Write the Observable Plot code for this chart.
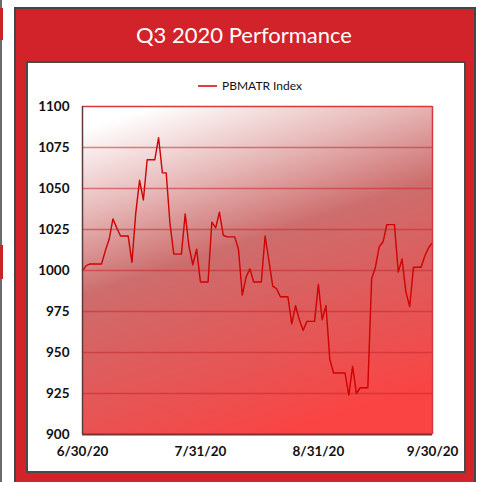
<!DOCTYPE html>
<html>
<head>
<meta charset="utf-8">
<script src="https://cdn.jsdelivr.net/npm/d3@7"></script>
<script src="https://cdn.jsdelivr.net/npm/@observablehq/plot@0.6"></script>
<style>
  html, body { margin: 0; padding: 0; background: #fff; }
  body { width: 479px; height: 482px; position: relative; overflow: hidden; font-family: "Lato", "Open Sans", sans-serif; }
  .abs { position: absolute; }
  #edge { left: 0; top: 0; width: 2px; height: 482px; background: #6a6a6a; }
  #frame { left: 14px; top: 7px; width: 458px; height: 480px; background: #d2222a; border: 2px solid #454545; }
  #title { left: 16px; top: 9px; width: 456px; height: 48px; line-height: 52px; text-align: center; color: #fff; font-size: 22px; font-family: "Lato", sans-serif; }
  #panel { left: 26px; top: 61px; width: 436px; height: 408px; background: #fff; border: 2px solid #4a4a4a; }
  #legend { left: 198px; top: 78px; font-size: 12px; color: #111; display: flex; align-items: center; gap: 5px; }
  #chart { left: 29px; top: 96px; }
</style>
</head>
<body>
<div class="abs" id="edge"></div>
<div class="abs" style="left:0;top:8px;width:3px;height:32px;background:#c8232a"></div>
<div class="abs" style="left:0;top:245px;width:3px;height:34px;background:#c8232a"></div>
<div class="abs" id="frame"></div>
<div class="abs" id="title"></div>
<div class="abs" id="panel"></div>
<div class="abs" id="legend"></div>
<div class="abs" id="chart"></div>
<script>
const titleText = "Q3 2020 Performance";
const seriesNames = ["PBMATR Index"];
const startDate = "2020-06-30";
const endDate = "2020-09-30";
const xTickLabels = ["2020-06-30", "2020-07-31", "2020-08-31", "2020-09-30"];
const yTicks = [900, 925, 950, 975, 1000, 1025, 1050, 1075, 1100];
// daily index level, 6/30/20 .. 9/30/20 (weekends/holidays carry the prior value)
const values = [
  1000,
  1003, 1004, 1004, 1004, 1004, 1012, 1019, 1031.5, 1026, 1021, 1021, 1021, 1005, 1035, 1055, 1043,
  1067.5, 1067.5, 1067.5, 1081, 1059.5, 1059.5, 1028.5, 1010, 1010, 1010, 1034.5, 1014.5, 1003.5, 1013, 993,
  993, 993, 1029.5, 1026, 1035.5, 1021.5, 1020.5, 1020.5, 1020.5, 1013, 985, 996, 1001, 993, 993, 993,
  1021, 1006, 990.5, 989, 984, 984, 984, 967.5, 978.5, 970, 963.5, 969, 969, 969, 991.5,
  970, 978.5, 946, 937.5, 937.5, 937.5, 937.5, 924, 941.5, 925, 928.5, 928.5, 928.5, 995, 1002, 1014.5,
  1017.5, 1028, 1028, 1028, 999, 1007, 987, 978, 1002, 1002, 1002, 1009, 1014, 1017
];

const parse = d3.utcParse("%Y-%m-%d");
const dates = d3.utcDay.range(parse(startDate), d3.utcDay.offset(parse(endDate), 1));
const data = dates.map((d, i) => ({date: d, value: values[i], series: seriesNames[0]}));
const tickDates = xTickLabels.map(parse);
const gridValues = yTicks.slice(1, -1);

document.getElementById("title").textContent = titleText;
document.getElementById("legend").innerHTML =
  `<svg width="19" height="6"><line x1="0" x2="19" y1="3" y2="3" stroke="#d00000" stroke-width="1.5"/></svg><span>${seriesNames[0]}</span>`;

const chart = Plot.plot({
  width: 435,
  height: 375,
  marginLeft: 53,
  marginRight: 32,
  marginTop: 10,
  marginBottom: 37,
  style: {fontFamily: "Lato, sans-serif", fontSize: "13.5px", fontWeight: "700", color: "#111", background: "transparent", overflow: "visible"},
  x: {type: "utc", domain: [parse(startDate), parse(endDate)], ticks: tickDates, tickFormat: d3.utcFormat("%-m/%-d/%y"), tickSize: 0, tickPadding: 12, label: null},
  y: {domain: [yTicks[0], yTicks[yTicks.length - 1]], ticks: yTicks, tickFormat: d3.format("d"), tickSize: 0, tickPadding: 13, label: null},
  marks: [
    Plot.frame({fill: "url(#bgGrad)", stroke: null}),
    Plot.ruleY(gridValues, {stroke: "#c4262c", strokeOpacity: 0.55, strokeWidth: 1.5}),
    Plot.lineY(data, {x: "date", y: "value", stroke: "#d00000", strokeWidth: 1.4}),
    Plot.ruleY([yTicks[yTicks.length - 1]], {stroke: "#d63a3e", strokeWidth: 1.5}),
    Plot.ruleX([parse(endDate)], {stroke: "#d63a3e", strokeWidth: 1.5}),
    Plot.ruleY([yTicks[0]], {stroke: "#7d3030", strokeWidth: 2}),
    Plot.ruleX([parse(startDate)], {stroke: "#5e3a3a", strokeWidth: 1.5})
  ]
});

const ns = "http://www.w3.org/2000/svg";
const defs = document.createElementNS(ns, "defs");
defs.innerHTML = `<linearGradient id="bgGrad" x1="0.2" y1="0" x2="0.55" y2="1">
  <stop offset="0" stop-color="#ffffff"/>
  <stop offset="0.22" stop-color="#e8bcbc"/>
  <stop offset="0.45" stop-color="#cd6d6d"/>
  <stop offset="0.65" stop-color="#dc5e5e"/>
  <stop offset="0.85" stop-color="#ec5050"/>
  <stop offset="1" stop-color="#fa4444"/>
</linearGradient>`;
chart.insertBefore(defs, chart.firstChild);
document.getElementById("chart").appendChild(chart);
</script>
</body>
</html>
